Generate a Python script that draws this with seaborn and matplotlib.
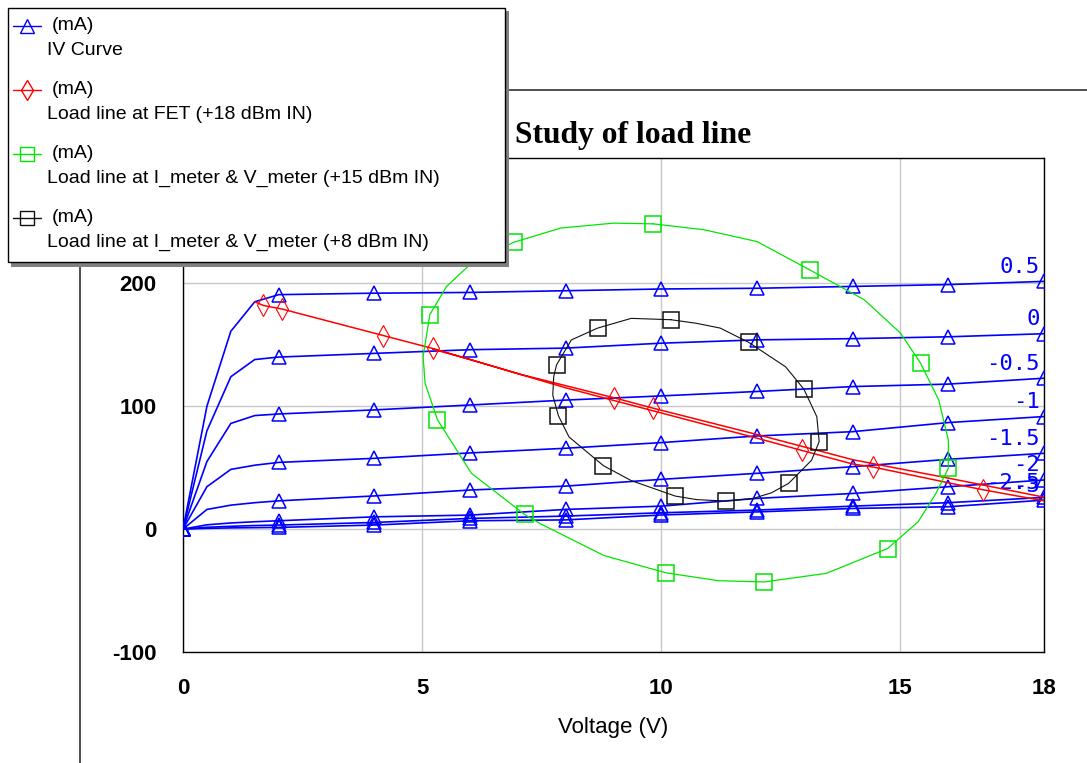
import matplotlib
matplotlib.use("Agg")
import matplotlib.pyplot as plt
import pandas as pd
import seaborn as sns
from matplotlib.patches import Rectangle

# ---------------- data ----------------
# Drain voltage sweep (V) shared by every IV curve
iv_v = [0, 0.5, 1, 1.5, 2, 4, 6, 8, 10, 12, 14, 16, 18]

# Drain current (mA) for each gate voltage
iv_vg_p05 = [0, 100, 161, 185, 190.8, 192, 192.6, 194, 195.4, 196, 197.5, 199, 201.6]
iv_vg_0 = [0, 80, 124, 138, 140, 143, 146, 147.3, 151.3, 154, 155, 156.5, 159]
iv_vg_m05 = [0, 55, 86, 92.4, 93.7, 97, 101, 105, 108.4, 112, 116, 118, 122.8]
iv_vg_m10 = [0, 34.5, 48.6, 52, 54.3, 57.6, 62, 65.8, 70.4, 75.8, 79.3, 86.7, 91.6]
iv_vg_m15 = [0, 16, 19.5, 21.5, 23, 27, 31.8, 35, 40.5, 45.4, 50.8, 56.8, 61.7]
iv_vg_m20 = [0, 3.5, 5, 6, 6.8, 10, 11.4, 16, 18.7, 25, 29, 34.5, 40]
iv_vg_m25 = [0, 1.5, 2.3, 2.9, 3.3, 5.4, 8.7, 10.6, 13.3, 15.5, 18.7, 21.5, 25.8]
iv_vg_m30 = [0, 0.6, 1, 1.2, 1.4, 3.3, 6.8, 7.5, 11.5, 14, 16.8, 18.2, 23.6]
vgs_labels = ["0.5", "0", "-0.5", "-1", "-1.5", "-2", "-2.5", "-3"]

# Load line seen at the FET (+18 dBm in), traced out and back
fet_v = [1.5, 1.68, 2.08, 4.19, 5.22, 7.05, 9.0, 9.82, 12.0, 14.0, 16.0, 18.0, 18.6,
         18.0, 16.73, 16.0, 14.43, 14.0, 12.94, 12.0, 10.0, 8.0, 6.0, 5.22]
fet_i = [185, 182, 179, 157.5, 147, 126, 107, 98.5, 77, 56.5, 41.5, 26, 21.5,
         23, 32, 37.7, 50.5, 53, 64, 74, 94.5, 115, 138, 146.5]

# Load line at I_meter & V_meter (+15 dBm in)
m15_v = [9.83, 10.88, 12.0, 13.1, 14.24, 15.0, 15.42, 15.8, 16.0, 16.0, 15.74, 15.37,
         14.73, 13.45, 12.15, 11.2, 10.1, 8.8, 7.46, 7.14, 6.03, 5.32, 5.06, 5.02,
         5.16, 5.51, 5.96, 6.91, 7.9, 9.0, 9.83]
m15_i = [248.4, 243.7, 234, 211, 186.7, 159.5, 135, 105, 72.5, 49.5, 29, 6,
         -15.8, -36, -43, -42, -35.6, -21.5, 4.6, 12, 45.4, 89, 118.8, 140.5,
         174.5, 197.5, 213.8, 233.4, 245, 249, 248.4]

# Load line at I_meter & V_meter (+8 dBm in)
m8_v = [10.2, 10.73, 11.23, 11.83, 12.6, 12.98, 13.25, 13.3, 13.14, 12.66, 12.3, 11.92,
        11.35, 10.74, 10.29, 9.37, 8.79, 8.07, 7.85, 7.73, 7.75, 7.81, 8.12, 8.67,
        9.37, 10.2]
m8_i = [170.4, 167.5, 163.6, 151.9, 132, 113.9, 91.5, 71.2, 56, 37.2, 29.5, 25,
        22.8, 24, 26.9, 39.5, 51.6, 75, 92.1, 109, 124, 133.7, 154, 163.6,
        171.5, 170.4]

x_ticks = [0, 5, 10, 15, 18]
y_ticks = [-100, 0, 100, 200]

# ---------------- style ----------------
sns.set_style("white")
plt.rcParams["font.family"] = ["Liberation Sans", "DejaVu Sans"]
plt.rcParams["text.color"] = "black"
plt.rcParams["axes.labelcolor"] = "black"

BLUE = "#0000ff"
RED = "#ff0000"
GREEN = "#00e600"
BLACK = "#111111"

W, H = 1087, 763
fig = plt.figure(figsize=(W / 100, H / 100), dpi=100)
fig.patch.set_facecolor("white")
ax = fig.add_axes([183 / W, 1 - 652 / H, (1044 - 183) / W, (652 - 158) / H])

iv_curves = [iv_vg_p05, iv_vg_0, iv_vg_m05, iv_vg_m10,
             iv_vg_m15, iv_vg_m20, iv_vg_m25, iv_vg_m30]
iv_marks = [0, 4, 5, 6, 7, 8, 9, 10, 11, 12]

for label, cur in zip(vgs_labels, iv_curves):
    df = pd.DataFrame({"V": iv_v, "I": cur})
    sns.lineplot(data=df, x="V", y="I", ax=ax, sort=False, estimator=None,
                 color=BLUE, lw=1.2, marker="^", ms=10.5, mfc="none", mec=BLUE,
                 mew=1.1, markevery=iv_marks, legend=False, zorder=3)
    ax.annotate(label, xy=(iv_v[-1], cur[-1]), xytext=(-3, 10.5),
                textcoords="offset points", ha="right", va="center",
                color=BLUE, fontsize=16, family="DejaVu Sans Mono",
                annotation_clip=False, zorder=4)

sns.lineplot(data=pd.DataFrame({"V": fet_v, "I": fet_i}), x="V", y="I", ax=ax,
             sort=False, estimator=None, color=RED, lw=1.1, marker="d", ms=11,
             mfc="none", mec=RED, mew=0.8, markevery=[1, 2, 3, 4, 6, 7, 14, 16, 18],
             legend=False, zorder=5)
sns.lineplot(data=pd.DataFrame({"V": m15_v, "I": m15_i}), x="V", y="I", ax=ax,
             sort=False, estimator=None, color=GREEN, lw=0.9, marker="s", ms=11,
             mfc="none", mec=GREEN, mew=1.1,
             markevery=[0, 3, 6, 9, 12, 14, 16, 19, 21, 24, 27],
             legend=False, zorder=5)
sns.lineplot(data=pd.DataFrame({"V": m8_v, "I": m8_i}), x="V", y="I", ax=ax,
             sort=False, estimator=None, color=BLACK, lw=0.8, marker="s", ms=11,
             mfc="none", mec=BLACK, mew=1.1,
             markevery=[0, 3, 5, 7, 9, 12, 14, 16, 18, 21, 23],
             legend=False, zorder=6)

ax.set_xlim(0, 18)
ax.set_ylim(-100, 302)
ax.set_xticks(x_ticks)
ax.set_yticks(y_ticks)
ax.set_xticklabels([str(t) for t in x_ticks], fontweight="bold")
ax.set_yticklabels([str(t) for t in y_ticks], fontweight="bold")
ax.tick_params(length=0, labelsize=16, pad=19, colors="black")
ax.grid(True, color="#c8c8c8", lw=1.0)
ax.set_axisbelow(True)
for sp in ax.spines.values():
    sp.set_visible(True)
    sp.set_color("black")
    sp.set_linewidth(1.0)
ax.set_ylabel("")
ax.set_xlabel("Voltage (V)", fontsize=16, color="black")
ax.xaxis.set_label_coords(0.5, (652 - 717) / (652 - 158))

fig.text(633 / W, 1 - 143 / H, "Study of load line", ha="center", va="baseline",
         family="Liberation Serif", fontweight="bold", fontsize=22.8, color="black")

# ---------------- frame and legend panel ----------------
ov = fig.add_axes([0, 0, 1, 1], zorder=10)
ov.set_xlim(0, W)
ov.set_ylim(H, 0)
ov.axis("off")
ov.patch.set_alpha(0)

ov.plot([80, W], [90, 90], color="#404040", lw=1.3, solid_capstyle="butt")
ov.plot([80, 80], [90, H], color="#404040", lw=1.3, solid_capstyle="butt")

ov.add_patch(Rectangle((11, 11), 498, 256, facecolor="#808080", edgecolor="none", zorder=2))
ov.add_patch(Rectangle((8, 8), 497, 254, facecolor="white", edgecolor="black", lw=1.0, zorder=3))

entries = [
    (BLUE, "^", 9.5, "IV Curve"),
    (RED, "d", 10.5, "Load line at FET (+18 dBm IN)"),
    (GREEN, "s", 10, "Load line at I_meter & V_meter (+15 dBm IN)"),
    (BLACK, "s", 10, "Load line at I_meter & V_meter (+8 dBm IN)"),
]
rows = [26, 90, 154, 218]
for (c, m, ms, name), r in zip(entries, rows):
    ov.plot([13, 41], [r, r], color=c, lw=1.0, zorder=4)
    ov.plot([27], [r], marker=m, ms=ms, mfc="none", mec=c, mew=1.0, zorder=5)
    ov.text(52, r, "(mA)", ha="left", va="center", fontsize=14, color="black", zorder=5)
    ov.text(47, r + 24.5, name, ha="left", va="center", fontsize=14, color="black", zorder=5)

fig.savefig("out.png", dpi=100)
